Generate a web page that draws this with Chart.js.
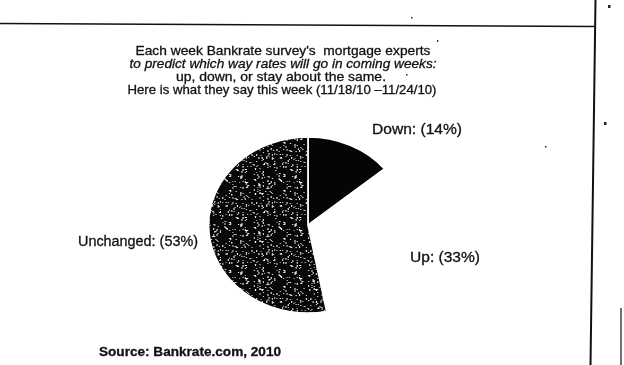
<!DOCTYPE html>
<html>
<head>
<meta charset="utf-8">
<script src="https://cdn.jsdelivr.net/npm/chart.js@4.4.1/dist/chart.umd.min.js"></script>
<style>
  html, body { margin: 0; padding: 0; background: #ffffff; }
  #wrap { position: relative; width: 624px; height: 365px; }
  canvas { display: block; }
</style>
</head>
<body>
<div id="wrap"><canvas id="c" width="624" height="365"></canvas></div>
<script>
// ---- data ----
const categories = ['Down', 'Up', 'Unchanged'];
const shares = [14, 33, 53];
const sliceLabels = ['Down: (14%)', 'Up: (33%)', 'Unchanged: (53%)'];
const titleLines = [
  "Each week Bankrate survey's  mortgage experts",
  "to predict which way rates will go in coming weeks:",
  "up, down, or stay about the same.",
  "Here is what they say this week (11/18/10 \u201311/24/10)"
];
const sourceText = 'Source: Bankrate.com, 2010';

// ---- stipple pattern (styling only) ----
function makeStipple() {
  const s = 48;
  const off = document.createElement('canvas');
  off.width = s; off.height = s;
  const g = off.getContext('2d');
  g.fillStyle = '#070707';
  g.fillRect(0, 0, s, s);
  let seed = 12345;
  function nx() { seed = (seed * 1103515245 + 12345) % 2147483648; return seed / 2147483648; }
  for (let i = 0; i < 230; i++) {
    const x = Math.floor(nx() * s), y = Math.floor(nx() * s);
    const v = 170 + Math.floor(nx() * 85);
    g.fillStyle = 'rgb(' + v + ',' + v + ',' + v + ')';
    g.fillRect(x, y, 1, nx() < 0.3 ? 2 : 1);
  }
  return g.createPattern(off, 'repeat');
}
const ctx0 = document.getElementById('c').getContext('2d');
const stipple = makeStipple();

const X_STRETCH = 1.13;

function fitText(ctx, text, x, y, width, style, size, align) {
  ctx.font = style + ' ' + size + 'px "Liberation Sans", Arial, sans-serif';
  const w = ctx.measureText(text).width;
  ctx.save();
  ctx.translate(x, y);
  ctx.scale(width / w, 1);
  ctx.textAlign = align;
  ctx.textBaseline = 'middle';
  ctx.fillText(text, 0, 0);
  ctx.lineWidth = 0.3;
  ctx.strokeStyle = ctx.fillStyle;
  ctx.strokeText(text, 0, 0);
  ctx.restore();
}

const stretchPlugin = {
  id: 'stretch',
  beforeDatasetsDraw(chart) {
    const a = chart.chartArea;
    const cx = (a.left + a.right) / 2;
    const c = chart.ctx;
    c.save();
    c.translate(cx, 0);
    c.scale(X_STRETCH, 1);
    c.translate(-cx, 0);
  },
  afterDatasetsDraw(chart) { chart.ctx.restore(); }
};

const decoPlugin = {
  id: 'deco',
  afterDraw(chart) {
    const c = chart.ctx;
    c.save();
    // page rules
    c.strokeStyle = '#111';
    c.lineWidth = 1.6;
    c.beginPath(); c.moveTo(0, 23.5); c.lineTo(595, 26.5); c.stroke();
    c.lineWidth = 2;
    c.beginPath(); c.moveTo(595.5, 0); c.lineTo(590.5, 365); c.stroke();
    c.lineWidth = 1.2;
    c.beginPath(); c.moveTo(621, 308); c.lineTo(621, 365); c.stroke();
    // scan specks
    c.fillStyle = '#222';
    [[608, 5, 2.5, 3], [604, 122, 2.5, 3], [411, 17, 1.5, 1.5], [437, 40, 1.2, 2], [406, 74, 1.5, 1.5], [545, 146, 1.5, 1.5]]
      .forEach(p => c.fillRect(p[0], p[1], p[2], p[3]));

    c.fillStyle = '#111';
    // title
    fitText(c, titleLines[0], 283, 51.5, 295, 'normal', 13, 'center');
    fitText(c, titleLines[1], 283, 64.5, 307, 'italic', 13, 'center');
    fitText(c, titleLines[2], 281, 77.5, 210, 'normal', 13, 'center');
    fitText(c, titleLines[3], 282, 90.5, 309, 'normal', 13, 'center');
    // slice labels, anchored to the pie centre
    const arc = chart.getDatasetMeta(0).data[0];
    const cx = arc.x, cy = arc.y;
    fitText(c, sliceLabels[0], cx + 64, cy - 95, 90, 'normal', 14, 'left');
    fitText(c, sliceLabels[1], cx + 102, cy + 33, 70, 'normal', 14, 'left');
    fitText(c, sliceLabels[2], cx - 110, cy + 17, 120, 'normal', 14, 'right');
    // source
    fitText(c, sourceText, 99, 352, 182, 'bold', 13, 'left');
    c.restore();
  }
};

new Chart(ctx0, {
  type: 'pie',
  data: {
    labels: categories,
    datasets: [{
      data: shares,
      backgroundColor: ['#050505', '#ffffff', stipple],
      borderColor: '#ffffff',
      borderWidth: 1.5,
      radius: 88
    }]
  },
  options: {
    responsive: false,
    animation: false,
    rotation: 0,
    layout: { padding: { left: 220, right: 228, top: 137, bottom: 52 } },
    plugins: {
      legend: { display: false },
      tooltip: { enabled: false },
      title: { display: false }
    }
  },
  plugins: [stretchPlugin, decoPlugin]
});
</script>
</body>
</html>
